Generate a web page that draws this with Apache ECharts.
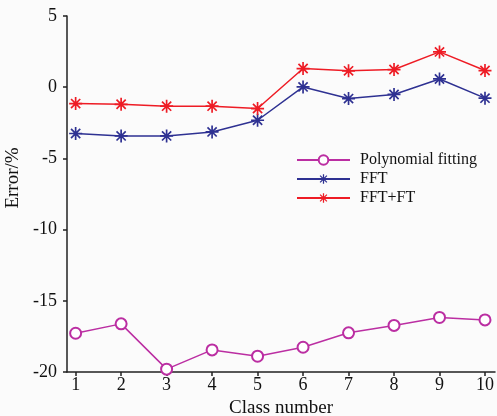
<!DOCTYPE html>
<html>
<head>
<meta charset="utf-8">
<script src="https://cdn.jsdelivr.net/npm/echarts@6/dist/echarts.min.js"></script>
<style>
  html, body { margin: 0; padding: 0; background: #fbfbfb; }
  #chart { width: 497px; height: 416px; }
</style>
</head>
<body>
<div id="chart"></div>
<script>
// class number 1..10
const classNumbers = [1, 2, 3, 4, 5, 6, 7, 8, 9, 10]
const polyFitting = [-17.28, -16.62, -19.8, -18.45, -18.89, -18.26, -17.25, -16.73, -16.17, -16.34]
const fft = [-3.25, -3.42, -3.42, -3.14, -2.32, 0.02, -0.8, -0.51, 0.58, -0.77]
const fftFt = [-1.15, -1.2, -1.33, -1.33, -1.5, 1.31, 1.15, 1.24, 2.48, 1.17]

// asterisk marker, 4 bars
const asterisk = 'path://M8.7 0L11.3 0L11.3 20L8.7 20Z' +
  'M0 8.7L20 8.7L20 11.3L0 11.3Z' +
  'M3.85 2.01L17.99 16.15L16.15 17.99L2.01 3.85Z' +
  'M16.15 2.01L17.99 3.85L3.85 17.99L2.01 16.15Z'

const font = 'Liberation Serif'
const toPairs = (vals) => vals.map((v, i) => [classNumbers[i], v])

const chart = echarts.init(document.getElementById('chart'))
chart.setOption({
  backgroundColor: '#fbfbfb',
  animation: false,
  grid: { left: 67, right: 2, top: 16, bottom: 44, outerBoundsMode: 'none' },
  legend: {
    left: 296,
    top: 152,
    padding: 0,
    orient: 'vertical',
    itemWidth: 53,
    itemHeight: 12,
    itemGap: 3,
    textStyle: { fontFamily: font, fontSize: 16, color: '#111', padding: [0, 0, 0, 5] },
    data: ['Polynomial fitting', 'FFT', 'FFT+FT']
  },
  xAxis: {
    type: 'value',
    min: 0.81,
    max: 10.22,
    name: 'Class number',
    nameLocation: 'middle',
    nameGap: 26,
    nameTextStyle: { fontFamily: font, fontSize: 19, color: '#111' },
    splitLine: { show: false },
    axisLine: { onZero: false, lineStyle: { color: '#222', width: 1.5 } },
    axisTick: { length: 4, lineStyle: { color: '#222', width: 1.5 }, customValues: classNumbers },
    axisLabel: { customValues: classNumbers, margin: 4, fontFamily: font, fontSize: 18, color: '#111' }
  },
  yAxis: {
    type: 'value',
    min: -20,
    max: 5,
    interval: 5,
    name: 'Error/%',
    nameLocation: 'middle',
    nameGap: 36,
    nameTextStyle: { fontFamily: font, fontSize: 19, color: '#111', padding: [0, 0, 0, 32] },
    splitLine: { show: false },
    axisLine: { onZero: false, lineStyle: { color: '#222', width: 1.5 } },
    axisTick: { length: 4, lineStyle: { color: '#222', width: 1.5 } },
    axisLabel: { margin: 10, fontFamily: font, fontSize: 18, color: '#111' }
  },
  series: [
    {
      name: 'Polynomial fitting',
      type: 'line',
      data: toPairs(polyFitting),
      symbol: 'emptyCircle',
      symbolSize: 11,
      color: '#bb2ea2',
      lineStyle: { width: 1.5, color: '#bb2ea2' },
      itemStyle: { borderWidth: 1.5, borderColor: '#bb2ea2' }
    },
    {
      name: 'FFT',
      type: 'line',
      data: toPairs(fft),
      symbol: asterisk,
      symbolSize: 13,
      color: '#2e3192',
      lineStyle: { width: 1.5 }
    },
    {
      name: 'FFT+FT',
      type: 'line',
      data: toPairs(fftFt),
      symbol: asterisk,
      symbolSize: 13,
      color: '#ee1c25',
      lineStyle: { width: 1.5 }
    }
  ]
})
</script>
</body>
</html>
